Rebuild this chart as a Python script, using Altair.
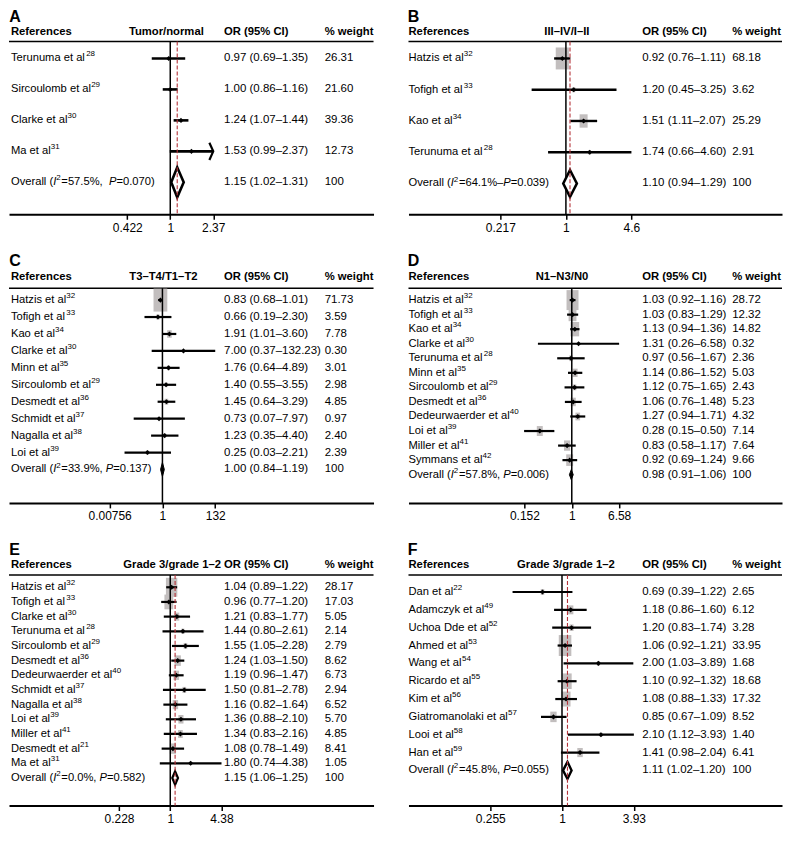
import math
import altair as alt
import pandas as pd

FONT = "Liberation Sans"

# ---------------- data ----------------
A_names = ["Terunuma et al", "Sircoulomb et al", "Clarke et al", "Ma et al"]
A_refnum = [28, 29, 30, 31]
A_est = [0.97, 1.00, 1.24, 1.53]
A_lo = [0.69, 0.86, 1.07, 0.99]
A_hi = [1.35, 1.16, 1.44, 2.37]
A_w = ["26.31", "21.60", "39.36", "12.73"]
A_overall = [1.15, 1.02, 1.31]
A_het = ["57.5%", ",  ", "0.070"]
A_ticks = [0.422, 1, 2.37]
A_header = "Tumor/normal"

B_names = ["Hatzis et al", "Tofigh et al", "Kao et al", "Terunuma et al"]
B_refnum = [32, 33, 34, 28]
B_est = [0.92, 1.20, 1.51, 1.74]
B_lo = [0.76, 0.45, 1.11, 0.66]
B_hi = [1.11, 3.25, 2.07, 4.60]
B_w = ["68.18", "3.62", "25.29", "2.91"]
B_overall = [1.10, 0.94, 1.29]
B_het = ["64.1%", "–", "0.039"]
B_ticks = [0.217, 1, 4.6]
B_header = "III–IV/I–II"

C_names = ["Hatzis et al", "Tofigh et al", "Kao et al", "Clarke et al", "Minn et al",
           "Sircoulomb et al", "Desmedt et al", "Schmidt et al", "Nagalla et al", "Loi et al"]
C_refnum = [32, 33, 34, 30, 35, 29, 36, 37, 38, 39]
C_est = [0.83, 0.66, 1.91, 7.00, 1.76, 1.40, 1.45, 0.73, 1.23, 0.25]
C_lo = [0.68, 0.19, 1.01, 0.37, 0.64, 0.55, 0.64, 0.07, 0.35, 0.03]
C_hi = [1.01, 2.30, 3.60, 132.23, 4.89, 3.55, 3.29, 7.97, 4.40, 2.21]
C_w = ["71.73", "3.59", "7.78", "0.30", "3.01", "2.98", "4.85", "0.97", "2.40", "2.39"]
C_overall = [1.00, 0.84, 1.19]
C_het = ["33.9%", ", ", "0.137"]
C_ticks = [0.00756, 1, 132]
C_header = "T3–T4/T1–T2"

D_names = ["Hatzis et al", "Tofigh et al", "Kao et al", "Clarke et al", "Terunuma et al",
           "Minn et al", "Sircoulomb et al", "Desmedt et al", "Dedeurwaerder et al",
           "Loi et al", "Miller et al", "Symmans et al"]
D_refnum = [32, 33, 34, 30, 28, 35, 29, 36, 40, 39, 41, 42]
D_est = [1.03, 1.03, 1.13, 1.31, 0.97, 1.14, 1.12, 1.06, 1.27, 0.28, 0.83, 0.92]
D_lo = [0.92, 0.83, 0.94, 0.26, 0.56, 0.86, 0.75, 0.76, 0.94, 0.15, 0.58, 0.69]
D_hi = [1.16, 1.29, 1.36, 6.58, 1.67, 1.52, 1.65, 1.48, 1.71, 0.50, 1.17, 1.24]
D_w = ["28.72", "12.32", "14.82", "0.32", "2.36", "5.03", "2.43", "5.23", "4.32",
       "7.14", "7.64", "9.66"]
D_overall = [0.98, 0.91, 1.06]
D_het = ["57.8%", ", ", "0.006"]
D_ticks = [0.152, 1, 6.58]
D_header = "N1–N3/N0"

E_names = ["Hatzis et al", "Tofigh et al", "Clarke et al", "Terunuma et al",
           "Sircoulomb et al", "Desmedt et al", "Dedeurwaerder et al", "Schmidt et al",
           "Nagalla et al", "Loi et al", "Miller et al", "Desmedt et al", "Ma et al"]
E_refnum = [32, 33, 30, 28, 29, 36, 40, 37, 38, 39, 41, 21, 31]
E_est = [1.04, 0.96, 1.21, 1.44, 1.55, 1.24, 1.19, 1.50, 1.16, 1.36, 1.34, 1.08, 1.80]
E_lo = [0.89, 0.77, 0.83, 0.80, 1.05, 1.03, 0.96, 0.81, 0.82, 0.88, 0.83, 0.78, 0.74]
E_hi = [1.22, 1.20, 1.77, 2.61, 2.28, 1.50, 1.47, 2.78, 1.64, 2.10, 2.16, 1.49, 4.38]
E_w = ["28.17", "17.03", "5.05", "2.14", "2.79", "8.62", "6.73", "2.94", "6.52",
       "5.70", "4.85", "8.41", "1.05"]
E_overall = [1.15, 1.06, 1.25]
E_het = ["0.0%", ", ", "0.582"]
E_ticks = [0.228, 1, 4.38]
E_header = "Grade 3/grade 1–2"

F_names = ["Dan et al", "Adamczyk et al", "Uchoa Dde et al", "Ahmed et al", "Wang et al",
           "Ricardo et al", "Kim et al", "Giatromanolaki et al", "Looi et al", "Han et al"]
F_refnum = [22, 49, 52, 53, 54, 55, 56, 57, 58, 59]
F_est = [0.69, 1.18, 1.20, 1.06, 2.00, 1.10, 1.08, 0.85, 2.10, 1.41]
F_lo = [0.39, 0.86, 0.83, 0.92, 1.03, 0.92, 0.88, 0.67, 1.12, 0.98]
F_hi = [1.22, 1.60, 1.74, 1.21, 3.89, 1.32, 1.33, 1.09, 3.93, 2.04]
F_w = ["2.65", "6.12", "3.28", "33.95", "1.68", "18.68", "17.32", "8.52", "1.40", "6.41"]
F_overall = [1.11, 1.02, 1.20]
F_het = ["45.8%", ", ", "0.055"]
F_ticks = [0.255, 1, 3.93]
F_header = "Grade 3/grade 1–2"

# ---------------- font metrics (Arial / Liberation Sans, per 1000 em) ----------------
_W = {" ": 278, ".": 278, ",": 278, "%": 889, "(": 333, ")": 333, "=": 584, "–": 556,
      "/": 278, "-": 333}
for ch, v in zip("abcdefghijklmnopqrstuvwxyz",
                 [556, 556, 500, 556, 556, 278, 556, 556, 222, 222, 500, 222, 833, 556, 556,
                  556, 556, 333, 500, 278, 556, 500, 722, 500, 500, 500]):
    _W[ch] = v
for ch, v in zip("ABCDEFGHIJKLMNOPQRSTUVWXYZ",
                 [667, 667, 722, 722, 667, 611, 778, 722, 278, 500, 667, 556, 833, 722, 778,
                  667, 778, 722, 667, 611, 722, 667, 944, 667, 667, 611]):
    _W[ch] = v


def text_w(s, fs):
    return sum(_W.get(ch, 556) for ch in s) * fs / 1000.0


# ---------------- layout (reference pixel geometry) ----------------
WL, WR = 365, 374
REF_WL, REF_WR = 373, 382
ROW_H = {1: 189, 2: 233, 3: 247}
FS_NAME, FS_SUP, FS_COL, FS_HEAD = 11.2, 8, 11.5, 11.3

GEOM = {
    "A": dict(side="L", T=20, B=209, p0=53, s=31.0, hy=27, hl=36, c=165, k=51.0, hmax=0,
              dh=15, dfill="white", dsw=2.6, red=True, fh=161, ciw=2.6),
    "B": dict(side="R", T=20, B=209, p0=53, s=31.3, hy=27, hl=36, c=161, k=43.9, hmax=22,
              dh=13.5, dfill="white", dsw=2.6, red=True, fh=162, ciw=2.4),
    "C": dict(side="L", T=270, B=503.5, p0=300, s=17.0, hy=277, hl=288, c=157, k=11.06,
              hmax=23, dh=7, dfill="black", dsw=1, red=False, fh=158, ciw=2.2),
    "D": dict(side="R", T=270, B=503.5, p0=300, s=14.6, hy=277, hl=288, c=167, k=25.7,
              hmax=20, dh=5, dfill="black", dsw=1, red=False, fh=157, ciw=2.2),
    "E": dict(side="L", T=563, B=823, p0=593, s=15.46, hy=570, hl=580, c=165, k=35.5,
              hmax=19, dh=7, dfill="white", dsw=2.2, red=True, fh=None, ciw=2.2),
    "F": dict(side="R", T=563, B=823, p0=598, s=18.8, hy=570, hl=580, c=157, k=53.7,
              hmax=21, dh=9, dfill="white", dsw=2.4, red=True, fh=161, ciw=2.2),
}
ROWOF = {"A": 1, "B": 1, "C": 2, "D": 2, "E": 3, "F": 3}

DATA = {
    "A": (A_names, A_refnum, A_est, A_lo, A_hi, A_w, A_overall, A_het, A_ticks, A_header),
    "B": (B_names, B_refnum, B_est, B_lo, B_hi, B_w, B_overall, B_het, B_ticks, B_header),
    "C": (C_names, C_refnum, C_est, C_lo, C_hi, C_w, C_overall, C_het, C_ticks, C_header),
    "D": (D_names, D_refnum, D_est, D_lo, D_hi, D_w, D_overall, D_het, D_ticks, D_header),
    "E": (E_names, E_refnum, E_est, E_lo, E_hi, E_w, E_overall, E_het, E_ticks, E_header),
    "F": (F_names, F_refnum, F_est, F_lo, F_hi, F_w, F_overall, F_het, F_ticks, F_header),
}

BOX = "M-0.6,-1L0.6,-1L0.6,1L-0.6,1Z"
ARROW = "M-0.45,-1L0,0L-0.45,1"


def make_panel(key):
    names, refnum, est, lo, hi, w, ov, het, ticks, header = DATA[key]
    g = GEOM[key]
    left = g["side"] == "L"
    W = WL if left else WR
    refW = REF_WL if left else REF_WR
    fx = W / refW
    H = ROW_H[ROWOF[key]]
    p0, s = g["p0"], g["s"]
    top_idx = (g["T"] - p0) / s
    bot_idx = (g["B"] - p0) / s
    hy = (g["hy"] - p0) / s
    hl = (g["hl"] - p0) / s
    n = len(names)

    c_px, k_px = g["c"] * fx, g["k"] * fx
    d0 = math.exp(-c_px / k_px)
    d1 = math.exp((W - c_px) / k_px)

    def px_to_x(px):
        return math.exp((px - c_px) / k_px)

    def X(field):
        return alt.X(field, type="quantitative",
                     scale=alt.Scale(type="log", domain=[d0, d1], nice=False, zero=False),
                     axis=alt.Axis(values=ticks, format=".3~g", title=None, grid=False,
                                   domainColor="black", domainWidth=2, tickColor="black",
                                   tickSize=5, tickWidth=1.5, labelFont=FONT, labelFontSize=12,
                                   labelColor="black", labelPadding=3, labelFlush=False,
                                   labelOverlap=False))

    def Y(field):
        return alt.Y(field, type="quantitative",
                     scale=alt.Scale(domain=[top_idx, bot_idx], reverse=True, nice=False,
                                     zero=False),
                     axis=None)

    name_x = (2 if left else 0) * fx
    or_x = (220 if left else 239) * fx
    w_x = (323 if left else 331) * fx

    # label segments (normal / italic / superscript) placed by font metrics
    seg = []

    def add_line(row, parts):
        off = 0.0
        for txt_, sty in parts:
            seg.append({"row": row, "x": px_to_x(name_x + off), "t": txt_, "sty": sty})
            fs = FS_SUP if sty == "s" else FS_NAME
            off += text_w(txt_, fs) + (0.6 if sty == "s" else 0)

    for i, (nm, r) in enumerate(zip(names, refnum)):
        add_line(i, [(nm, "n"), (str(r), "s")])
    add_line(n, [("Overall (", "n"), ("I", "i"), ("2", "s"),
                 ("=" + het[0] + het[1], "n"), ("P", "i"), ("=" + het[2] + ")", "n")])
    segdf = pd.DataFrame(seg)

    rows = pd.DataFrame({
        "row": list(range(n)), "est": est, "lo": lo, "hi": hi,
        "wt": [float(v) for v in w],
    })
    coltxt = pd.DataFrame({
        "row": list(range(n + 1)),
        "ortxt": [f"{e:.2f} ({l:.2f}–{h:.2f})" for e, l, h in zip(est, lo, hi)]
                 + [f"{ov[0]:.2f} ({ov[1]:.2f}–{ov[2]:.2f})"],
        "wtxt": list(w) + ["100"],
    })

    layers = []
    for sty, fs, dy, style in [("n", FS_NAME, 0, "normal"), ("i", FS_NAME, 0, "italic"),
                               ("s", FS_SUP, -4, "normal")]:
        sub = segdf[segdf["sty"] == sty]
        if len(sub):
            layers.append(alt.Chart(sub).mark_text(
                align="left", baseline="middle", font=FONT, fontSize=fs, color="black",
                fontStyle=style, dy=dy).encode(x=X("x"), y=Y("row"), text=alt.Text("t:N")))

    def txt(df, field, xpix, align="left", bold=False, fs=FS_COL):
        return alt.Chart(df).mark_text(
            align=align, baseline="middle", font=FONT, fontSize=fs, color="black",
            fontWeight="bold" if bold else "normal"
        ).encode(x=alt.value(xpix), y=Y("row"), text=alt.Text(field, type="nominal"))

    hdr = pd.DataFrame({"row": [hy], "a": ["References"], "b": [header],
                        "c": ["OR (95% CI)"], "d": ["% weight"]})

    layers.append(txt(coltxt, "ortxt", or_x))
    layers.append(txt(coltxt, "wtxt", w_x))
    layers.append(txt(hdr, "a", name_x, bold=True, fs=FS_HEAD))
    if g["fh"] is None:
        layers.append(txt(hdr, "b", or_x - 3, align="right", bold=True, fs=FS_HEAD))
    else:
        layers.append(txt(hdr, "b", g["fh"] * fx, align="center", bold=True, fs=FS_HEAD))
    layers.append(txt(hdr, "c", or_x, bold=True, fs=FS_HEAD))
    layers.append(txt(hdr, "d", w_x, bold=True, fs=FS_HEAD))

    layers.append(alt.Chart(pd.DataFrame({"row": [hl]})).mark_rule(
        color="black", strokeWidth=1.5).encode(x=alt.value(0), x2=alt.value(W), y=Y("row")))

    # grey weight boxes
    if g["hmax"] > 0:
        layers.append(alt.Chart(rows).mark_point(
            shape=BOX, filled=True, fill="#c2bebe", color="#c2bebe", opacity=1, strokeWidth=0
        ).encode(x=X("est"), y=Y("row"),
                 size=alt.Size("wt", type="quantitative",
                               scale=alt.Scale(domain=[0, max(rows["wt"])],
                                               range=[0, g["hmax"] ** 2]),
                               legend=None)))

    # null line at OR = 1
    layers.append(alt.Chart(pd.DataFrame({"x": [1.0], "y1": [hl], "y2": [bot_idx]})).mark_rule(
        color="black", strokeWidth=1.5).encode(x=X("x"), y=Y("y1"), y2=alt.Y2("y2:Q")))

    # CI lines
    layers.append(alt.Chart(rows).mark_rule(color="black", strokeWidth=g["ciw"]).encode(
        x=X("lo"), x2=alt.X2("hi:Q"), y=Y("row")))
    # point estimate markers
    layers.append(alt.Chart(rows).mark_point(
        shape="diamond", filled=True, color="black", opacity=1, size=26).encode(
        x=X("est"), y=Y("row")))

    # arrow for truncated CI (panel A, Ma et al)
    if key == "A":
        layers.append(alt.Chart(rows.iloc[[3]]).mark_point(
            shape=ARROW, filled=False, color="black", strokeWidth=2.2, opacity=1, size=300
        ).encode(x=X("hi"), y=Y("row")))

    # overall diamond
    hh = g["dh"] / s
    dia = pd.DataFrame({"x": [ov[1], ov[0], ov[2]],
                        "ya": [n, n - hh, n], "yb": [n, n + hh, n]})
    layers.append(alt.Chart(dia).mark_area(
        orient="vertical", fill=g["dfill"], stroke="black", strokeWidth=g["dsw"],
        opacity=1, fillOpacity=1, strokeJoin="miter").encode(
        x=X("x"), y=Y("ya"), y2=alt.Y2("yb:Q")))

    # dashed line at overall estimate
    if g["red"]:
        layers.append(alt.Chart(pd.DataFrame({"x": [ov[0]], "y1": [hl], "y2": [bot_idx]})
                      ).mark_rule(color="#b5333a", strokeWidth=1.1, strokeDash=[4, 2]).encode(
            x=X("x"), y=Y("y1"), y2=alt.Y2("y2:Q")))

    return alt.layer(*layers).properties(
        width=W, height=H,
        title=alt.TitleParams(key, anchor="start", fontSize=16, fontWeight="bold", font=FONT,
                              color="black", offset=1, dx=1 if left else 0),
    ).resolve_scale(size="independent")


def row_of(a, b):
    return alt.hconcat(make_panel(a), make_panel(b), spacing=33).resolve_scale(
        x="independent", y="independent", size="independent")


chart = alt.vconcat(row_of("A", "B"), row_of("C", "D"), row_of("E", "F"),
                    spacing=20).resolve_scale(
    x="independent", y="independent", size="independent"
).properties(padding=0, background="white").configure_view(
    strokeWidth=0, stroke="transparent"
).configure_axisY(domain=False, ticks=False, labels=False, grid=False
).configure_axisX(grid=False)

chart.save("out.html", embed_options={"renderer": "svg", "actions": False})
